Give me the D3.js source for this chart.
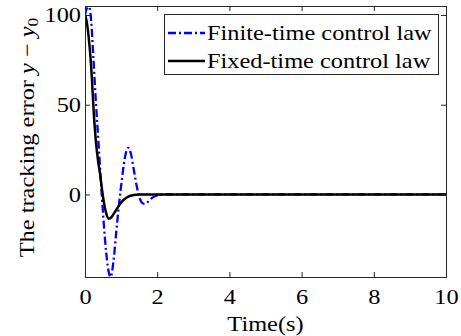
<!DOCTYPE html>
<html>
<head>
<meta charset="utf-8">
<script src="https://cdn.jsdelivr.net/npm/d3@7"></script>
<style>
  body { margin: 0; background: #fff; }
  svg text { font-family: "Liberation Serif", "Times New Roman", serif !important; fill: #000; }
</style>
</head>
<body>
<svg id="chart"></svg>
<script>
const width = 461;
const height = 336;
const margin = { top: 6, right: 15, bottom: 59, left: 85 };

// finite-time control law (blue dash-dot)
const finiteT = [0, 0.05, 0.12, 0.17, 0.23, 0.3, 0.37, 0.46, 0.55, 0.63, 0.71, 0.79, 0.87, 0.95, 1.02, 1.1, 1.2, 1.28, 1.35, 1.43, 1.5, 1.57, 1.65, 1.75, 1.85, 2.0, 2.2, 3, 10];
const finiteY = [100, 103.5, 104.5, 97, 77, 52, 30, 1, -24, -40, -46, -37, -20, -4, 8, 20, 26, 22, 14, 5, -1, -4.5, -5.3, -4, -2, -0.6, 0, 0, 0];

// fixed-time control law (black solid)
const fixedT = [0, 0.05, 0.1, 0.15, 0.19, 0.23, 0.3, 0.36, 0.42, 0.47, 0.52, 0.58, 0.66, 0.74, 0.82, 0.9, 1.0, 1.1, 1.2, 1.35, 1.5, 2, 10];
const fixedY = [100, 96, 88, 77, 65, 50, 30, 19, 11, 3, -4, -10, -13.5, -12.5, -10, -7.5, -4.5, -2.5, -1.2, -0.3, 0, 0, 0];

const xTicks = [0, 2, 4, 6, 8, 10];
const yTicks = [0, 50, 100];
const legendLabels = ['Finite-time control law', 'Fixed-time control law'];

// the LaTeX font in the original is wider than Liberation Serif
const stretch = 1.16;

const svg = d3.select('#chart')
    .attr('width', width)
    .attr('height', height);

const innerW = width - margin.left - margin.right;
const innerH = height - margin.top - margin.bottom;

const x = d3.scaleLinear().domain([0, 10]).range([margin.left, margin.left + innerW]);
const y = d3.scaleLinear().domain([-46, 105]).range([margin.top + innerH, margin.top]);

const g = svg.append('g');

svg.append('clipPath').attr('id', 'clip')
    .append('rect')
    .attr('x', margin.left).attr('y', margin.top)
    .attr('width', innerW).attr('height', innerH);

const line = d3.line()
    .x(function(d) { return x(d[0]) })
    .y(function(d) { return y(d[1]) })
    .curve(d3.curveMonotoneX);

const finite = finiteT.map(function(t, i) { return [t, finiteY[i]] });
const fixed = fixedT.map(function(t, i) { return [t, fixedY[i]] });

const curves = g.append('g').attr('clip-path', 'url(#clip)');

curves.append('path')
    .datum(finite)
    .attr('d', line)
    .attr('fill', 'none')
    .attr('stroke', '#0000ff')
    .attr('stroke-width', 2.3)
    .attr('stroke-dasharray', '8,3,2,3');

curves.append('path')
    .datum(fixed)
    .attr('d', line)
    .attr('fill', 'none')
    .attr('stroke', '#000')
    .attr('stroke-width', 2.5);

// axes, box style with inward ticks
const axisColor = '#262626';
const tickLen = 5;

const xBottom = g.append('g')
    .attr('transform', `translate(0, ${margin.top + innerH})`)
    .call(d3.axisBottom(x).tickValues(xTicks).tickSize(-tickLen).tickPadding(12));
const xTop = g.append('g')
    .attr('transform', `translate(0, ${margin.top})`)
    .call(d3.axisTop(x).tickValues(xTicks).tickSize(-tickLen).tickFormat(''));
const yLeft = g.append('g')
    .attr('transform', `translate(${margin.left}, 0)`)
    .call(d3.axisLeft(y).tickValues(yTicks).tickSize(-tickLen).tickPadding(4));
const yRight = g.append('g')
    .attr('transform', `translate(${margin.left + innerW}, 0)`)
    .call(d3.axisRight(y).tickValues(yTicks).tickSize(-tickLen).tickFormat(''));

[xBottom, xTop, yLeft, yRight].forEach(function(a) {
    a.attr('font-family', null).attr('font-size', null);
    a.select('.domain').attr('stroke', axisColor).attr('stroke-width', 1);
    a.selectAll('.tick line').attr('stroke', axisColor);
    a.selectAll('.tick text')
        .style('font-size', '21px')
        .attr('fill', '#000');
});

// axis labels
svg.append('text')
    .attr('x', x(5))
    .attr('y', 331)
    .attr('text-anchor', 'middle')
    .style('font-size', '21px')
    .text('Time(s)');

const yl = svg.append('text')
    .attr('transform', `translate(34, ${margin.top + innerH / 2 - 4}) rotate(-90)`)
    .attr('text-anchor', 'middle')
    .style('font-size', '21px');
yl.append('tspan').text('The tracking error ');
yl.append('tspan').style('font-style', 'italic').text('y');
yl.append('tspan').text(' \u2212 ');
yl.append('tspan').style('font-style', 'italic').text('y');
yl.append('tspan').attr('dy', 4).style('font-size', '15px').text('0');

// legend
const legend = svg.append('g');
legend.append('rect')
    .attr('x', 164.5).attr('y', 14.5)
    .attr('width', 274).attr('height', 60)
    .attr('fill', '#fff')
    .attr('stroke', axisColor)
    .attr('stroke-width', 1);

const legendStyles = [
    { color: '#0000ff', w: 2.3, dash: '8,3,2,3' },
    { color: '#000', w: 2.5, dash: null }
];
legendLabels.forEach(function(label, i) {
    const ly = 33 + i * 28;
    legend.append('line')
        .attr('x1', 168).attr('x2', 205)
        .attr('y1', ly).attr('y2', ly)
        .attr('stroke', legendStyles[i].color)
        .attr('stroke-width', legendStyles[i].w)
        .attr('stroke-dasharray', legendStyles[i].dash);
    legend.append('text')
        .attr('x', 207)
        .attr('y', ly + 7)
        .style('font-size', '21px')
        .text(label);
});

// widen every text to the proportions of the original font
svg.selectAll('text').each(function() {
    const len = this.getComputedTextLength();
    if (len > 0) {
        d3.select(this)
            .attr('textLength', len * stretch)
            .attr('lengthAdjust', 'spacingAndGlyphs');
    }
});
</script>
</body>
</html>
